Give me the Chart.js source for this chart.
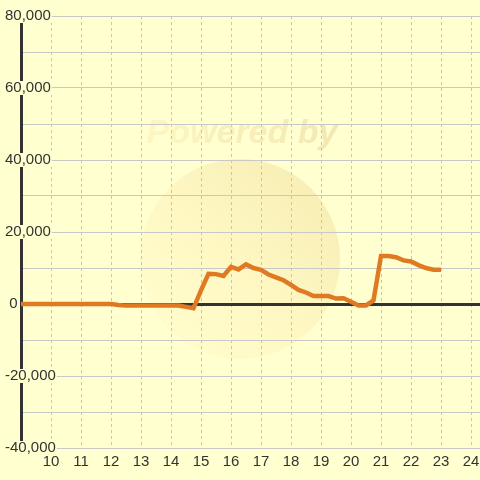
<!DOCTYPE html>
<html>
<head>
<meta charset="utf-8">
<script src="https://cdn.jsdelivr.net/npm/chart.js@4/dist/chart.umd.min.js"></script>
<style>
  html, body { margin: 0; padding: 0; background: #ffffd0; }
  #wrap { width: 480px; height: 480px; }
</style>
</head>
<body>
<div id="wrap"><canvas id="chart" width="480" height="480"></canvas></div>
<script>
// hour of day and value
const hours = [9, 12, 12.25, 12.5, 14.25, 14.5, 14.75, 15, 15.25, 15.5, 15.75, 16, 16.25, 16.5, 16.75,
  17, 17.25, 17.5, 17.75, 18, 18.25, 18.5, 18.75, 19, 19.25, 19.5, 19.75, 20, 20.25, 20.5, 20.75,
  21, 21.25, 21.5, 21.75, 22, 22.25, 22.5, 22.75, 23];
const values = [0, 0, -300, -450, -450, -800, -1200, 3800, 8400, 8300, 7800, 10300, 9600, 11000, 10000,
  9500, 8200, 7400, 6600, 5300, 3900, 3200, 2200, 2200, 2200, 1500, 1600, 600, -400, -400, 1000,
  13300, 13300, 13000, 12100, 11800, 10800, 10000, 9500, 9500];

const xTicks = [10, 11, 12, 13, 14, 15, 16, 17, 18, 19, 20, 21, 22, 23, 24];
const yTicks = [-40000, -30000, -20000, -10000, 0, 10000, 20000, 30000, 40000, 50000, 60000, 70000, 80000];
const yLabels = [-40000, -20000, 0, 20000, 40000, 60000, 80000];

const bg = '#ffffd0';
const fontFamily = '"Liberation Sans", Arial, sans-serif';

const backgroundPlugin = {
  id: 'background',
  beforeDraw(chart) {
    const ctx = chart.ctx;
    ctx.save();
    ctx.fillStyle = bg;
    ctx.fillRect(0, 0, chart.width, chart.height);

    // faint watermark
    const cx = 240, cy = 259, r = 100;
    const g = ctx.createLinearGradient(cx + r * 0.7, cy - r * 0.7, cx - r * 0.7, cy + r * 0.7);
    g.addColorStop(0, '#f8efb6');
    g.addColorStop(0.5, '#fef7c2');
    g.addColorStop(1, '#fffccb');
    ctx.fillStyle = g;
    ctx.beginPath();
    ctx.arc(cx, cy, r, 0, Math.PI * 2);
    ctx.fill();

    const tg = ctx.createLinearGradient(148, 0, 335, 0);
    tg.addColorStop(0, '#fcf6c2');
    tg.addColorStop(1, '#f3e8b2');
    ctx.fillStyle = tg;
    ctx.font = 'italic bold 34px ' + fontFamily;
    ctx.textAlign = 'center';
    ctx.textBaseline = 'middle';
    ctx.fillText('Powered by', 242, 134);
    ctx.restore();
  }
};

new Chart(document.getElementById('chart'), {
  type: 'line',
  data: {
    datasets: [{
      data: hours.map((h, i) => ({ x: h, y: values[i] })),
      borderColor: '#e07a22',
      borderWidth: 4.5,
      pointRadius: 0,
      tension: 0,
      fill: false
    }]
  },
  options: {
    responsive: false,
    animation: false,
    layout: { padding: { top: 16, left: 0, right: 0, bottom: 0 } },
    plugins: { legend: { display: false }, tooltip: { enabled: false } },
    scales: {
      x: {
        type: 'linear',
        min: 9,
        max: 24.3,
        afterBuildTicks: s => { s.ticks = xTicks.map(v => ({ value: v })); },
        afterFit: s => { s.paddingLeft = 0; s.paddingRight = 0; s.height = 32; },
        border: { display: false, dash: [3, 3] },
        grid: { color: '#c4c4c4', lineWidth: 1, drawTicks: false },
        ticks: {
          padding: 5,
          color: '#333',
          font: { family: fontFamily, size: 15 },
          maxRotation: 0,
          callback: v => String(v)
        }
      },
      y: {
        min: -40000,
        max: 80000,
        afterBuildTicks: s => { s.ticks = yTicks.map(v => ({ value: v })); },
        afterFit: s => { s.width = 21; s.paddingTop = 0; s.paddingBottom = 0; },
        border: { display: true, color: '#333', width: 3 },
        grid: {
          color: c => (c.tick && c.tick.value === 0) ? '#333' : '#c8c8c8',
          lineWidth: c => (c.tick && c.tick.value === 0) ? 3 : 1,
          drawTicks: false
        },
        ticks: {
          mirror: true,
          crossAlign: 'near',
          padding: -16,
          color: '#333',
          font: { family: fontFamily, size: 15 },
          callback: v => yLabels.includes(v) ? (v === 0 ? ' 0' : v.toLocaleString('en-US')) : '',
          showLabelBackdrop: c => yLabels.includes(c.tick.value),
          backdropColor: bg,
          backdropPadding: { top: -2, bottom: -2, left: 1, right: 1 }
        }
      }
    }
  },
  plugins: [backgroundPlugin]
});
</script>
</body>
</html>
